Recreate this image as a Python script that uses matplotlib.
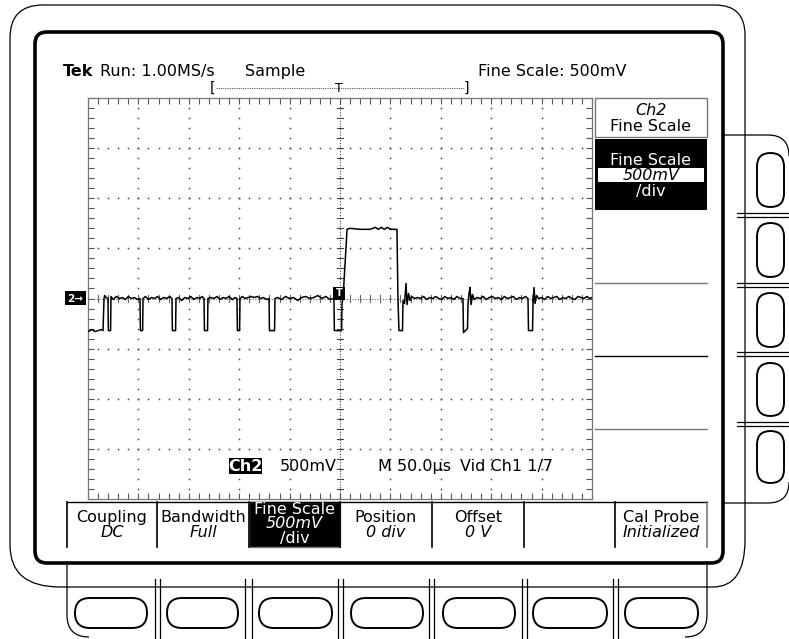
import matplotlib
matplotlib.use("Agg")
from matplotlib import pyplot as plt
from matplotlib.patches import Rectangle, FancyBboxPatch, PathPatch
from matplotlib.path import Path
from matplotlib.ticker import MultipleLocator
import numpy as np

# scope settings (50 us/div, 500 mV/div, 10 x 8 divisions)
time_per_div = 50.0
volts_per_div = 0.5

# Ch2 trace: time in us, level in V
trace_t = [0, 4, 7, 10, 13, 14.9, 15.9, 16.6, 18, 19.8, 20.2, 22.4, 22.8,
           25, 28, 31, 34, 37, 40, 43, 46, 49, 51.6, 52.0, 54.2, 54.6,
           57, 60, 63, 66, 69, 72, 75, 78, 81, 83.3, 83.7, 86.9, 87.3,
           90, 93, 96, 99, 102, 105, 108, 111, 113, 115.1, 115.5, 118.6, 119,
           122, 125, 128, 131, 134, 137, 140, 143, 146, 147.8, 148.2, 150.4, 150.8,
           153, 156, 159, 162, 165, 168, 171, 174, 177, 179.6, 180.0, 185.1, 185.5,
           188, 192, 196, 200, 204, 208, 212, 216, 220, 224, 228, 232, 236, 240, 244,
           244.4, 251.6, 252, 253, 257, 260, 270, 280, 285, 288, 291, 294, 297, 300, 306.5,
           307.5, 308.5, 312, 312.5, 314, 315.5, 316.5, 318, 319.5, 321, 324,
           327, 330, 333, 336, 339, 342, 345, 348, 351, 354, 357, 360, 363, 366, 369, 372,
           372.5, 376.5, 377, 378, 379, 380, 381.5, 383,
           386, 389, 392, 395, 398, 401, 404, 407, 410, 413, 416, 419, 422, 425, 428, 431, 434, 436.5,
           437, 441, 441.5, 442.5, 443.5, 445, 447,
           450, 453, 456, 459, 462, 465, 468, 471, 474, 477, 480, 483, 486, 489, 492, 495, 498, 500]
trace_v = [-0.33, -0.31, -0.33, -0.32, -0.31, -0.32, 0.0, 0.03, 0.01, 0.0, -0.32, -0.32, 0.02,
           -0.01, 0.02, 0.0, 0.01, -0.01, 0.02, 0.0, 0.01, -0.01, 0.0, -0.32, -0.32, 0.0,
           0.02, -0.01, 0.01, 0.0, 0.02, -0.01, 0.01, 0.0, 0.02, 0.0, -0.32, -0.32, 0.0,
           0.01, -0.02, 0.01, 0.0, 0.02, -0.01, 0.01, 0.0, 0.02, 0.0, -0.32, -0.32, 0.0,
           0.01, 0.0, 0.02, -0.01, 0.01, 0.0, 0.02, -0.01, 0.01, 0.0, -0.32, -0.32, 0.0,
           0.02, 0.0, 0.01, 0.02, 0.01, 0.02, 0.0, 0.01, -0.01, 0.0, -0.32, -0.32, 0.0,
           0.01, -0.01, 0.02, 0.0, 0.01, -0.02, 0.01, 0.02, 0.0, 0.01, 0.03, 0.0, 0.02, -0.01, 0.0,
           -0.32, -0.32, -0.05, 0.0, 0.69, 0.70, 0.69, 0.69, 0.71, 0.69, 0.71, 0.69, 0.71, 0.69, 0.69,
           0.0, -0.32, -0.32, -0.02, -0.05, 0.15, -0.06, 0.05, -0.02, 0.02, 0.0,
           0.01, 0.0, 0.02, -0.01, 0.01, 0.0, 0.02, 0.0, -0.01, 0.02, 0.0, 0.01, -0.01, 0.02, 0.0, 0.0,
           -0.34, -0.30, -0.05, 0.05, 0.11, -0.06, 0.04, -0.01,
           0.01, 0.0, 0.02, -0.01, 0.01, 0.02, 0.0, 0.01, -0.01, 0.02, 0.0, 0.01, 0.02, -0.01, 0.01, 0.0, 0.02, 0.0,
           -0.32, -0.32, -0.05, 0.11, -0.05, 0.03, 0.0,
           0.01, -0.01, 0.02, 0.0, 0.01, 0.02, -0.01, 0.01, 0.0, 0.02, 0.0, -0.01, 0.02, 0.01, 0.0, 0.02, 0.0, 0.01]

# screen texts
header_left = "Run: 1.00MS/s"
header_mode = "Sample"
header_right = "Fine Scale: 500mV"
readout = ["500mV", "M 50.0\u00b5s", "Vid Ch1 1/7"]
menu_top = ["Coupling", "Bandwidth", "Fine Scale", "Position", "Offset", "", "Cal Probe"]
menu_bot = ["DC", "Full", "500mV", "0 div", "0 V", "", "Initialized"]

W, H = 789, 639
fig = plt.figure(figsize=(W / 100, H / 100), dpi=100)
fig.patch.set_facecolor("white")

# graticule axes
gx0, gx1, gy0, gy1 = 88, 592, 98, 499
ax = fig.add_axes([gx0 / W, 1 - gy1 / H, (gx1 - gx0) / W, (gy1 - gy0) / H], zorder=1)
ax.set_facecolor("none")
ax.set_xlim(0, 10 * time_per_div)
ax.set_ylim(-4 * volts_per_div, 4 * volts_per_div)
ax.xaxis.set_major_locator(MultipleLocator(time_per_div))
ax.xaxis.set_minor_locator(MultipleLocator(time_per_div / 5))
ax.yaxis.set_major_locator(MultipleLocator(volts_per_div))
ax.yaxis.set_minor_locator(MultipleLocator(volts_per_div / 5))
ax.tick_params(which="both", direction="in", length=4, width=0.8, color="#555",
               top=True, right=True, labelbottom=False, labelleft=False)
for s in ax.spines.values():
    s.set_color("#777")
    s.set_linewidth(0.9)

dot = dict(ls="none", marker="s", ms=1.1, mec="none", color="#444")
vy = np.arange(-4, 4.01, 0.2) * volts_per_div
hx = np.arange(0, 10.01, 0.2) * time_per_div
for k in range(1, 10):
    if k != 5:
        ax.plot(np.full_like(vy, k * time_per_div), vy, **dot)
for k in range(-3, 4):
    if k != 0:
        ax.plot(hx, np.full_like(hx, k * volts_per_div), **dot)
# centre cross with small ticks
ax.axhline(0, color="#666", lw=0.8, ls=(0, (1, 1.5)))
ax.axvline(5 * time_per_div, color="#444", lw=0.8, ls=(0, (1, 1.5)))
for x in hx:
    ax.plot([x, x], [-0.03, 0.03], color="#666", lw=0.8)
for y in vy:
    ax.plot([5 * time_per_div - 3, 5 * time_per_div + 3], [y, y], color="#444", lw=0.8)

ax.plot(trace_t, trace_v, color="black", lw=1.1, zorder=5)

# overlay in pixel coordinates for bezel, menus and text
bg = fig.add_axes([0, 0, 1, 1], zorder=2)
bg.set_xlim(0, W)
bg.set_ylim(H, 0)
bg.axis("off")
bg.patch.set_alpha(0)

M, L, C = Path.MOVETO, Path.LINETO, Path.CURVE3


def pline(pts, codes, lw=1.0, color="black"):
    bg.add_patch(PathPatch(Path(pts, codes), fill=False, lw=lw, ec=color))


# outer bezel
pline([(43, 5), (715, 5), (745, 5), (745, 35), (745, 540), (745, 587), (713, 587),
       (60, 587), (10, 587), (10, 545), (10, 38), (10, 5), (43, 5)],
      [M, L, C, C, L, C, C, L, C, C, L, C, C], lw=0.9)
# screen border
bg.add_patch(FancyBboxPatch((35, 32), 688, 531, boxstyle="round,pad=0,rounding_size=12",
                            fill=False, lw=2.6, ec="black"))
# right button column
pline([(724, 135), (768, 135), (789, 135), (789, 156)], [M, L, C, C], lw=0.9)
pline([(724, 503), (768, 503), (789, 503), (789, 482)], [M, L, C, C], lw=0.9)
for y in [213, 283, 352, 422]:
    bg.plot([737, 789], [y, y], color="black", lw=0.9)
    bg.plot([737, 789], [y + 4, y + 4], color="black", lw=0.9)
for y0, y1 in [(153, 207), (223, 277), (293, 347), (363, 416), (431, 483)]:
    bg.add_patch(FancyBboxPatch((757, y0), 27, y1 - y0, boxstyle="round,pad=0,rounding_size=13.5",
                                fill=False, lw=1.4, ec="black"))
# bottom button row
pline([(67, 565), (67, 615), (67, 637), (89, 637)], [M, L, C, C], lw=0.9)
pline([(707, 565), (707, 615), (707, 637), (685, 637)], [M, L, C, C], lw=0.9)
for x in [155, 245, 338, 429, 522, 613]:
    gap = 5 if x not in (245,) else 7
    bg.plot([x, x], [579, 639], color="black", lw=0.9)
    bg.plot([x + gap, x + gap], [579, 639], color="black", lw=0.9)
for x0, x1 in [(75, 147), (167, 238), (259, 332), (351, 423), (443, 515), (533, 607), (625, 698)]:
    bg.add_patch(FancyBboxPatch((x0, 598), x1 - x0, 30, boxstyle="round,pad=0,rounding_size=15",
                                fill=False, lw=1.4, ec="black"))

fs = 11.5
# header line
bg.text(63, 76, "Tek", fontsize=fs, fontweight="bold", va="baseline")
bg.text(100, 76, header_left, fontsize=fs, va="baseline")
bg.text(245, 76, header_mode, fontsize=fs, va="baseline")
bg.text(478, 76, header_right, fontsize=fs, va="baseline")
# record view bracket
bg.plot([216, 464], [88, 88], color="#555", lw=0.8, ls=(0, (1, 1)))
bg.text(213, 92, "[", fontsize=10, ha="center", va="baseline")
bg.text(466, 92, "]", fontsize=10, ha="center", va="baseline")
bg.text(339, 92, "T", fontsize=9, ha="center", va="baseline")

# channel ground marker and trigger marker
bg.add_patch(Rectangle((65, 291), 21, 14, fc="black", ec="none"))
bg.text(75.5, 298.5, "2\u2192", color="white", fontsize=7.5, fontweight="bold", ha="center", va="center")
bg.add_patch(Rectangle((333, 287), 12, 13, fc="black", ec="none"))
bg.text(339, 293.5, "T", color="white", fontsize=7, fontweight="bold", ha="center", va="center")

# readout
bg.add_patch(Rectangle((229, 458), 33, 16, fc="black", ec="none"))
bg.text(245.5, 471, "Ch2", color="white", fontsize=fs, fontweight="bold", ha="center", va="baseline")
for x, s in zip([280, 378, 460], readout):
    bg.text(x, 471, s, fontsize=fs, va="baseline")

# side menu
bg.add_patch(Rectangle((595, 98), 112, 39, fc="white", ec="#777", lw=1))
bg.text(651, 115, "Ch2", fontsize=fs, style="italic", ha="center", va="baseline")
bg.text(651, 131, "Fine Scale", fontsize=fs, ha="center", va="baseline")
bg.add_patch(Rectangle((595, 139), 112, 71, fc="black", ec="none"))
bg.text(651, 165, "Fine Scale", fontsize=fs, color="white", ha="center", va="baseline")
bg.add_patch(Rectangle((598, 168), 106, 14, fc="white", ec="none"))
bg.text(651, 180, "500mV", fontsize=fs, style="italic", ha="center", va="baseline")
bg.text(651, 196, "/div", fontsize=fs, color="white", ha="center", va="baseline")
for y, c in [(283, "#777"), (356, "black"), (429, "#777")]:
    bg.plot([595, 707], [y, y], color=c, lw=1)

# bottom menu
bg.plot([67, 707], [502, 502], color="black", lw=1)
edges = [67, 157, 249, 340, 432, 524, 615, 707]
for x in edges:
    bg.plot([x, x], [502, 547], color="#777" if x == 707 else "black", lw=1.2)
bg.add_patch(Rectangle((249, 502), 91, 45, fc="black", ec="#777", lw=1))
for i, (top, bot) in enumerate(zip(menu_top, menu_bot)):
    cx = (edges[i] + edges[i + 1]) / 2
    if i == 2:
        bg.text(cx, 514, top, fontsize=fs, color="white", ha="center", va="baseline")
        bg.text(cx, 528, bot, fontsize=fs, color="white", style="italic", ha="center", va="baseline")
        bg.text(cx, 543, "/div", fontsize=fs, color="white", ha="center", va="baseline")
    else:
        bg.text(cx, 522, top, fontsize=fs, ha="center", va="baseline")
        bg.text(cx, 537, bot, fontsize=fs, style="italic", ha="center", va="baseline")

fig.savefig("out.png", dpi=100)
